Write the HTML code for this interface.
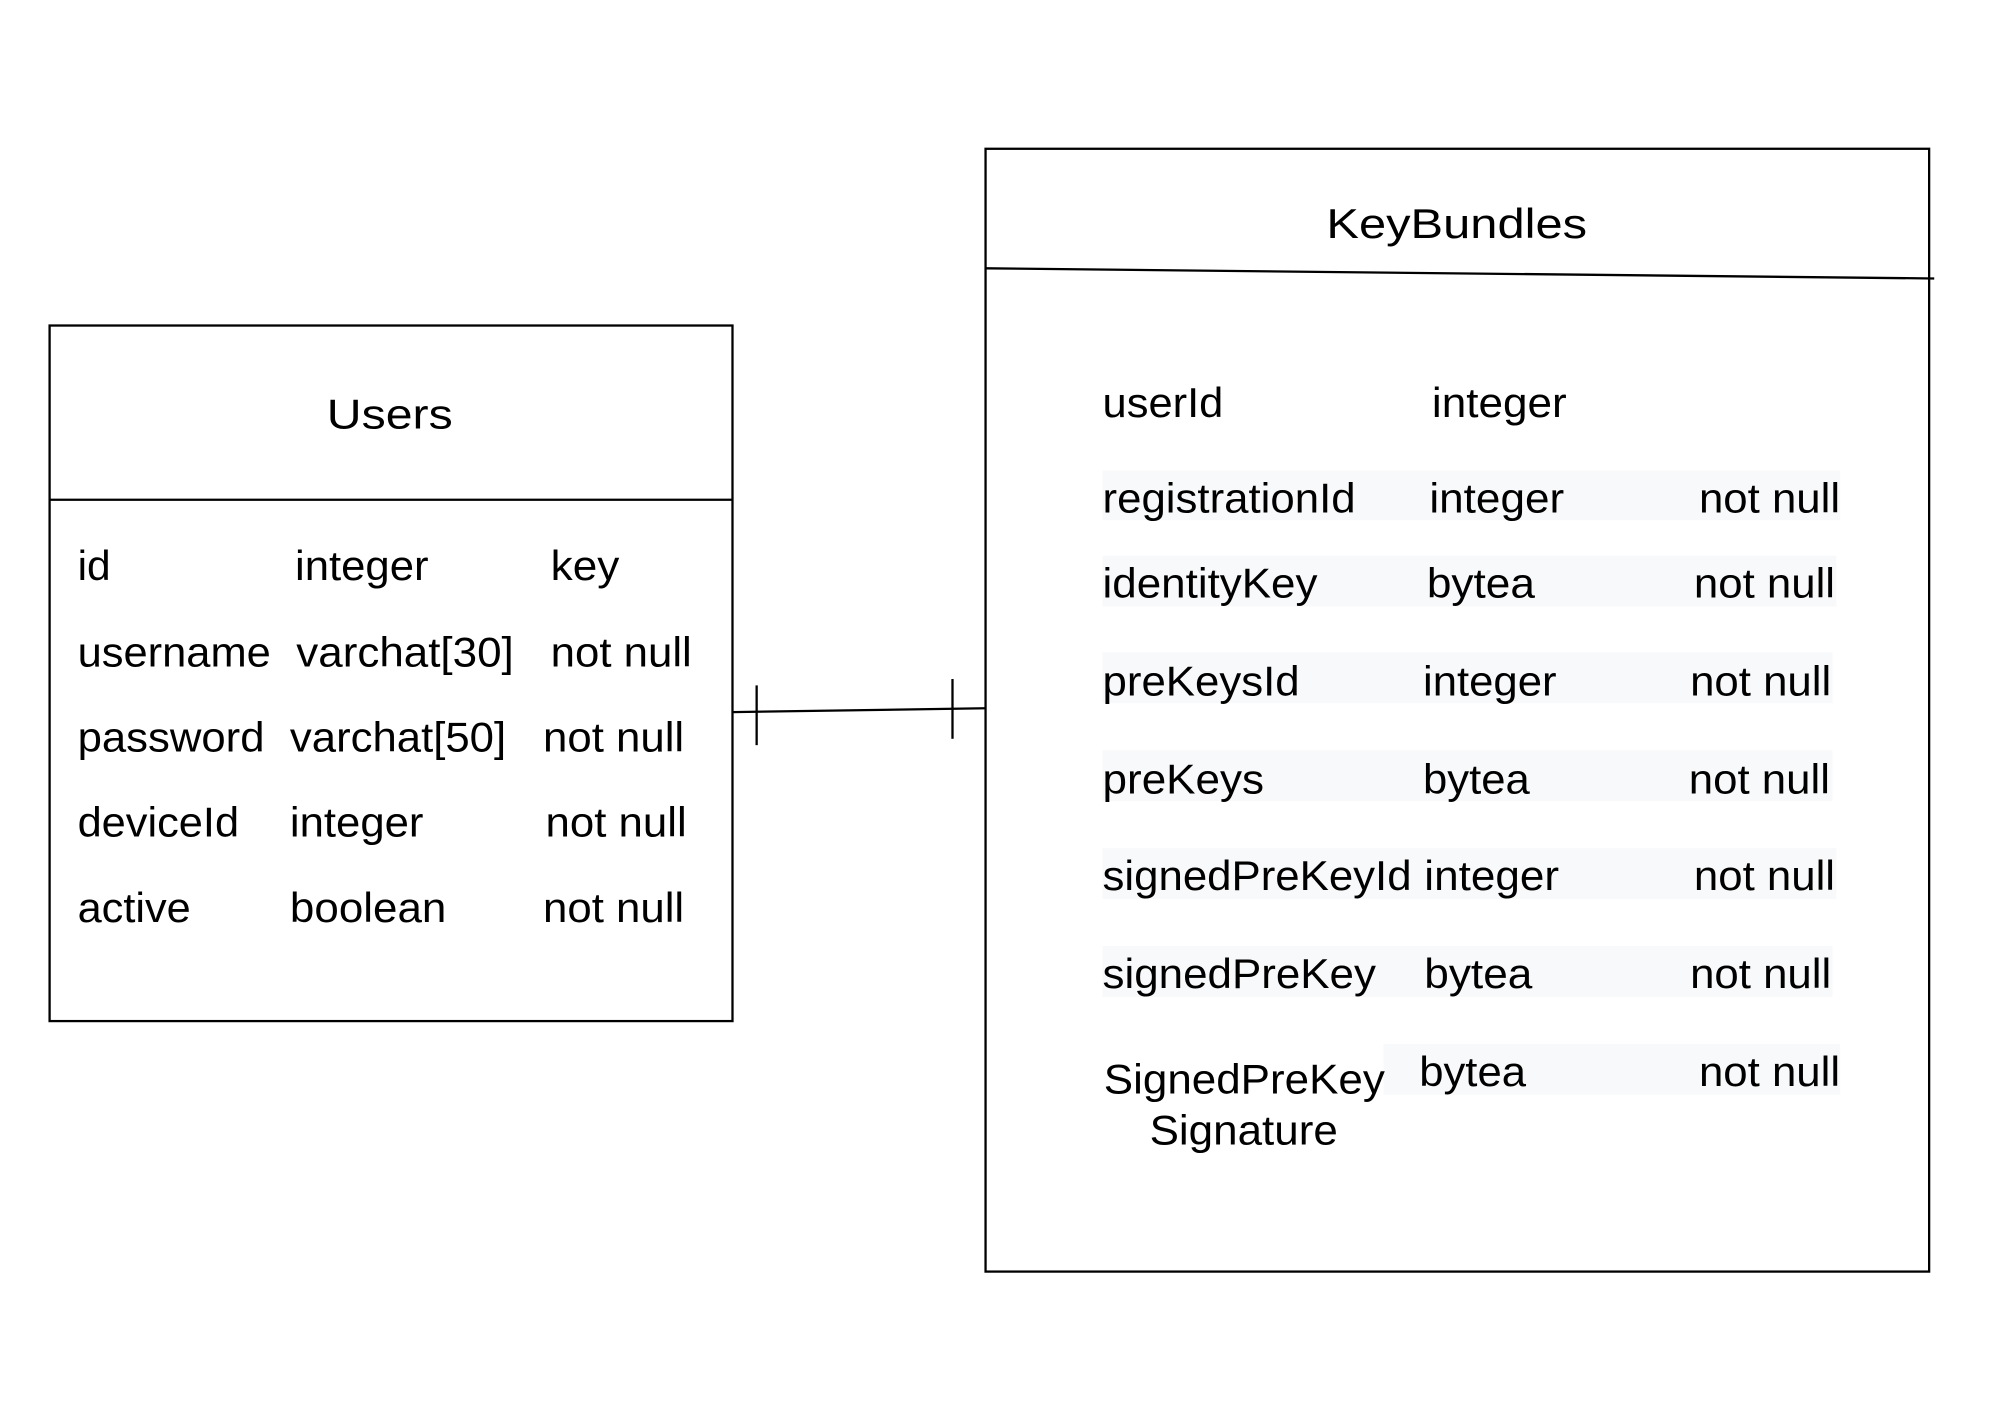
<!DOCTYPE html>
<html><head><meta charset="utf-8"><style>
html,body{margin:0;padding:0;background:#fff;}
svg{display:block;}
text{font-family:"Liberation Sans",Arial,sans-serif;font-size:33px;fill:#000;}
</style></head><body>
<svg width="1994" height="1414" viewBox="0 0 1568 1112" preserveAspectRatio="none" xmlns="http://www.w3.org/2000/svg">
<rect width="1568" height="1112" fill="#fff"/>
<g fill="#f8f9fa">
<rect x="867" y="370" width="580" height="39"/>
<rect x="867" y="437" width="577" height="40"/>
<rect x="867" y="513" width="574" height="40"/>
<rect x="867" y="590" width="574" height="40"/>
<rect x="867" y="667" width="577" height="40"/>
<rect x="867" y="744" width="574" height="40"/>
<rect x="1088" y="821" width="359" height="40"/>
</g>
<g stroke="#000" stroke-width="1.8" fill="none">
<rect x="39" y="256" width="537" height="547"/>
<line x1="39" y1="393" x2="576" y2="393"/>
<rect x="775" y="117" width="742" height="883"/>
<line x1="775" y1="211" x2="1521" y2="219"/>
<line x1="576" y1="560" x2="775" y2="557"/>
<line x1="595" y1="539" x2="595" y2="586"/>
<line x1="749" y1="534" x2="749" y2="581"/>
</g>
<g>
<text x="257" y="337" font-size="36" textLength="99" lengthAdjust="spacingAndGlyphs">Users</text>
<text x="61" y="456" textLength="26" lengthAdjust="spacingAndGlyphs">id</text>
<text x="232" y="456" textLength="105" lengthAdjust="spacingAndGlyphs">integer</text>
<text x="433" y="456" textLength="54" lengthAdjust="spacingAndGlyphs">key</text>
<text x="61" y="524" textLength="152" lengthAdjust="spacingAndGlyphs">username</text>
<text x="233" y="524" textLength="171" lengthAdjust="spacingAndGlyphs">varchat[30]</text>
<text x="433" y="524" textLength="111" lengthAdjust="spacingAndGlyphs">not null</text>
<text x="61" y="591" textLength="147" lengthAdjust="spacingAndGlyphs">password</text>
<text x="228" y="591" textLength="170" lengthAdjust="spacingAndGlyphs">varchat[50]</text>
<text x="427" y="591" textLength="111" lengthAdjust="spacingAndGlyphs">not null</text>
<text x="61" y="658" textLength="127" lengthAdjust="spacingAndGlyphs">deviceId</text>
<text x="228" y="658" textLength="105" lengthAdjust="spacingAndGlyphs">integer</text>
<text x="429" y="658" textLength="111" lengthAdjust="spacingAndGlyphs">not null</text>
<text x="61" y="725" textLength="89" lengthAdjust="spacingAndGlyphs">active</text>
<text x="228" y="725" textLength="123" lengthAdjust="spacingAndGlyphs">boolean</text>
<text x="427" y="725" textLength="111" lengthAdjust="spacingAndGlyphs">not null</text>

<text x="1043" y="187" font-size="36" textLength="205" lengthAdjust="spacingAndGlyphs">KeyBundles</text>
<text x="867" y="328" textLength="95" lengthAdjust="spacingAndGlyphs">userId</text>
<text x="1126" y="328" textLength="106" lengthAdjust="spacingAndGlyphs">integer</text>
<text x="867" y="403" textLength="199" lengthAdjust="spacingAndGlyphs">registrationId</text>
<text x="1124" y="403" textLength="106" lengthAdjust="spacingAndGlyphs">integer</text>
<text x="1336" y="403" textLength="111" lengthAdjust="spacingAndGlyphs">not null</text>
<text x="867" y="470" textLength="169" lengthAdjust="spacingAndGlyphs">identityKey</text>
<text x="1122" y="470" textLength="85" lengthAdjust="spacingAndGlyphs">bytea</text>
<text x="1332" y="470" textLength="111" lengthAdjust="spacingAndGlyphs">not null</text>
<text x="867" y="547" textLength="155" lengthAdjust="spacingAndGlyphs">preKeysId</text>
<text x="1119" y="547" textLength="105" lengthAdjust="spacingAndGlyphs">integer</text>
<text x="1329" y="547" textLength="111" lengthAdjust="spacingAndGlyphs">not null</text>
<text x="867" y="624" textLength="127" lengthAdjust="spacingAndGlyphs">preKeys</text>
<text x="1119" y="624" textLength="84" lengthAdjust="spacingAndGlyphs">bytea</text>
<text x="1328" y="624" textLength="111" lengthAdjust="spacingAndGlyphs">not null</text>
<text x="867" y="700" textLength="243" lengthAdjust="spacingAndGlyphs">signedPreKeyId</text>
<text x="1120" y="700" textLength="106" lengthAdjust="spacingAndGlyphs">integer</text>
<text x="1332" y="700" textLength="111" lengthAdjust="spacingAndGlyphs">not null</text>
<text x="867" y="777" textLength="215" lengthAdjust="spacingAndGlyphs">signedPreKey</text>
<text x="1120" y="777" textLength="85" lengthAdjust="spacingAndGlyphs">bytea</text>
<text x="1329" y="777" textLength="111" lengthAdjust="spacingAndGlyphs">not null</text>
<text x="868" y="860" textLength="221" lengthAdjust="spacingAndGlyphs">SignedPreKey</text>
<text x="904" y="900" textLength="148" lengthAdjust="spacingAndGlyphs">Signature</text>
<text x="1116" y="854" textLength="84" lengthAdjust="spacingAndGlyphs">bytea</text>
<text x="1336" y="854" textLength="111" lengthAdjust="spacingAndGlyphs">not null</text>
</g>
</svg>
</body></html>
